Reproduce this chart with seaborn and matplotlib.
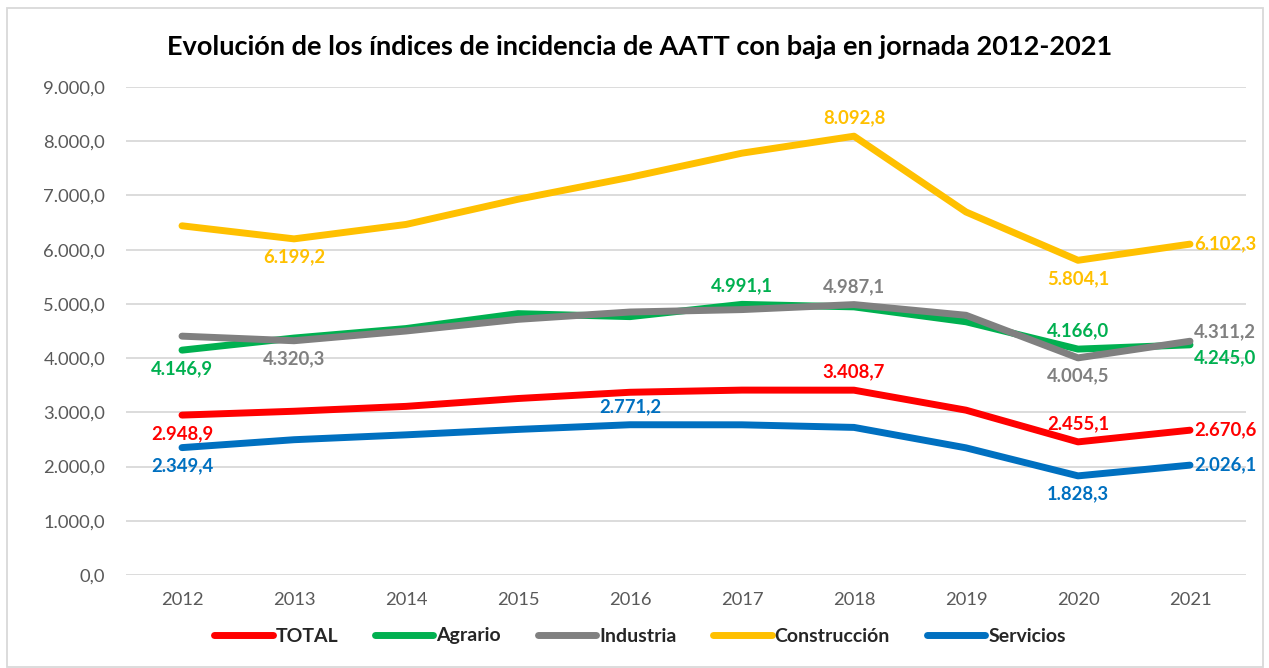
import matplotlib
matplotlib.use("Agg")
import matplotlib.pyplot as plt
import seaborn as sns
import pandas as pd
from matplotlib.lines import Line2D
from matplotlib.patches import Rectangle

years = [2012, 2013, 2014, 2015, 2016, 2017, 2018, 2019, 2020, 2021]
total = [2948.9, 3020, 3110, 3255, 3370, 3410, 3408.7, 3040, 2455.1, 2670.6]
agrario = [4146.9, 4370, 4545, 4820, 4765, 4991.1, 4945, 4670, 4166.0, 4245.0]
industria = [4405, 4320.3, 4500, 4715, 4850, 4895, 4987.1, 4790, 4004.5, 4311.2]
construccion = [6440, 6199.2, 6465, 6930, 7335, 7780, 8092.8, 6695, 5804.1, 6102.3]
servicios = [2349.4, 2495, 2585, 2685, 2771.2, 2770, 2722, 2345, 1828.3, 2026.1]

series_names = ["TOTAL", "Agrario", "Industria", "Construcción", "Servicios"]
series_values = [total, agrario, industria, construccion, servicios]
colors = ["#FF0000", "#00B050", "#808080", "#FFC000", "#0070C0"]
yticks = [0, 1000, 2000, 3000, 4000, 5000, 6000, 7000, 8000, 9000]

# labels: (year index, position)
label_spec = {
    "TOTAL": [(0, "below"), (6, "above"), (8, "above"), (9, "right")],
    "Agrario": [(0, "below"), (5, "above"), (8, "above"), (9, "rightlow")],
    "Industria": [(1, "below"), (6, "above"), (8, "below"), (9, "righthigh")],
    "Construcción": [(1, "below"), (6, "above"), (8, "below"), (9, "right")],
    "Servicios": [(0, "below"), (4, "above"), (8, "below"), (9, "right")],
}

def fmt(v):
    s = f"{v:,.1f}"
    return s.replace(",", "X").replace(".", ",").replace("X", ".")

rows = []
for name, vals in zip(series_names, series_values):
    for y, v in zip(years, vals):
        rows.append({"year": y, "value": v, "series": name})
df = pd.DataFrame(rows)

sns.set_style("white")
plt.rcParams["font.family"] = ["Lato", "DejaVu Sans"]

W, H = 1269, 668
fig = plt.figure(figsize=(W / 100, H / 100), dpi=100)
ax = fig.add_axes([126 / W, 1 - 575 / H, (1246 - 126) / W, (575 - 87) / H])

LW = 5.0
sns.lineplot(data=df, x="year", y="value", hue="series", hue_order=series_names,
             palette=colors, linewidth=LW, ax=ax, legend=False, sort=False,
             solid_capstyle="round", solid_joinstyle="round")

ax.set_xlim(2011.5, 2021.5)
ax.set_ylim(0, 9000)
ax.set_yticks(yticks)
ax.set_yticklabels([fmt(t) for t in yticks])
ax.set_xticks(years)
ax.set_xticklabels([str(y) for y in years])
ax.tick_params(axis="both", length=0, labelsize=13.2, labelcolor="#595959")
ax.tick_params(axis="y", pad=15)
ax.tick_params(axis="x", pad=12)
ax.grid(axis="y", color="#D9D9D9", linewidth=1.3)
ax.set_axisbelow(True)
for sp in ax.spines.values():
    sp.set_visible(False)
ax.set_xlabel("")
ax.set_ylabel("")

for name, vals, col in zip(series_names, series_values, colors):
    for idx, pos in label_spec[name]:
        x, v = years[idx], vals[idx]
        if pos == "below":
            off, ha, va = (0, -7), "center", "top"
        elif pos == "above":
            off, ha, va = (0, 7), "center", "bottom"
        elif pos == "right":
            off, ha, va = (3, 0), "left", "center"
        elif pos == "rightlow":
            off, ha, va = (3, -9), "left", "center"
        else:
            off, ha, va = (3, 7), "left", "center"
        ax.annotate(fmt(v), (x, v), xytext=off, textcoords="offset points",
                    ha=ha, va=va, color=col, fontsize=13.3, fontweight="bold",
                    annotation_clip=False)

fig.text(640 / W, 1 - 47 / H,
         "Evolución de los índices de incidencia de AATT con baja en jornada 2012-2021",
         ha="center", va="center", fontsize=19.5, fontweight="bold", color="black")

handles = [Line2D([0], [0], color=c, linewidth=LW, solid_capstyle="round") for c in colors]
leg = fig.legend(handles, series_names, loc="center", bbox_to_anchor=(640 / W, 1 - 636 / H),
                 ncol=5, frameon=False, handlelength=3.0, handletextpad=0.15,
                 columnspacing=1.9, prop={"weight": "bold", "size": 14})

fig.patches.append(Rectangle((7 / W, 1 - 667 / H), (1263 - 7) / W, (667 - 8) / H,
                             transform=fig.transFigure, fill=False,
                             edgecolor="#D9D9D9", linewidth=1.3))

fig.savefig("out.png", dpi=100)
